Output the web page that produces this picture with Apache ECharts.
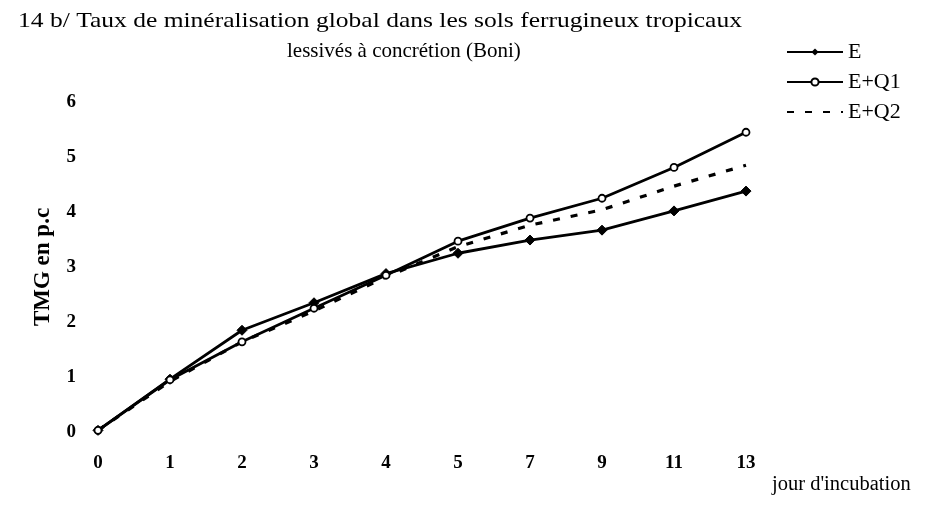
<!DOCTYPE html>
<html>
<head>
<meta charset="utf-8">
<script src="https://cdn.jsdelivr.net/npm/echarts@6/dist/echarts.min.js"></script>
<style>
  html, body { margin: 0; padding: 0; background: #fff; }
  #chart { width: 926px; height: 510px; }
</style>
</head>
<body>
<div id="chart"></div>
<script>
// Incubation days (category axis)
const days = ['0', '1', '2', '3', '4', '5', '7', '9', '11', '13'];
// Global mineralisation rate (TMG, p.c) per treatment
const serieE   = [0.03, 0.96, 1.85, 2.35, 2.88, 3.25, 3.49, 3.67, 4.02, 4.38];
const serieEQ1 = [0.03, 0.95, 1.64, 2.25, 2.85, 3.47, 3.89, 4.25, 4.81, 5.45];
const serieEQ2 = [0.03, 0.92, 1.64, 2.20, 2.82, 3.37, 3.76, 4.04, 4.47, 4.85];
const yTicks = [0, 1, 2, 3, 4, 5, 6];

const serif = 'Liberation Serif';
const chart = echarts.init(document.getElementById('chart'));

chart.setOption({
  backgroundColor: '#ffffff',
  animation: false,
  title: {
    text: 'lessivés à concrétion (Boni)',
    left: 282, top: 36,
    textStyle: { fontFamily: serif, fontSize: 21, fontWeight: 'normal', color: '#000' }
  },
  legend: {
    orient: 'vertical',
    left: 781, top: 36,
    itemWidth: 56, itemHeight: 9, itemGap: 8,
    textStyle: { fontFamily: serif, fontSize: 22, color: '#000' },
    data: [
      'E',
      'E+Q1',
      { name: 'E+Q2', itemStyle: { color: 'rgba(0,0,0,0)', borderWidth: 0 } }
    ]
  },
  grid: { left: 98, right: 180, top: 102, bottom: 78 },
  xAxis: {
    type: 'category',
    data: days,
    boundaryGap: false,
    axisLine: { show: false },
    axisTick: { show: false },
    splitLine: { show: false },
    axisLabel: { margin: 22, fontFamily: serif, fontSize: 19, fontWeight: 'bold', color: '#000' }
  },
  yAxis: {
    type: 'value',
    min: yTicks[0], max: yTicks[yTicks.length - 1], interval: 1,
    axisLine: { show: false },
    axisTick: { show: false },
    splitLine: { show: false },
    axisLabel: { margin: 22, fontFamily: serif, fontSize: 19, fontWeight: 'bold', color: '#000' },
    name: 'TMG en p.c',
    nameLocation: 'middle',
    nameRotate: 90,
    nameGap: 43,
    nameTextStyle: { fontFamily: serif, fontSize: 23, fontWeight: 'bold', color: '#000' }
  },
  graphic: [
    {
      // first title line, slightly widened
      type: 'text',
      x: 18, y: 10, scaleX: 1.16,
      style: {
        text: '14 b/ Taux de minéralisation global dans les sols ferrugineux tropicaux',
        font: '22px "Liberation Serif"', fill: '#000'
      }
    },
    {
      type: 'text',
      left: 772, top: 474,
      style: { text: "jour d'incubation", font: '20.5px "Liberation Serif"', fill: '#000' }
    }
  ],
  series: [
    {
      name: 'E', type: 'line', data: serieE,
      symbol: 'diamond', symbolSize: 10,
      lineStyle: { color: '#000', width: 2.8 },
      itemStyle: { color: '#000', borderColor: '#000' },
      z: 3
    },
    {
      name: 'E+Q1', type: 'line', data: serieEQ1,
      symbol: 'circle', symbolSize: 7,
      lineStyle: { color: '#000', width: 2.8 },
      itemStyle: { color: '#fff', borderColor: '#000', borderWidth: 1.8 },
      z: 4
    },
    {
      name: 'E+Q2', type: 'line', data: serieEQ2,
      symbol: 'none',
      lineStyle: { color: '#000', width: 3.2, type: [7, 11] },
      itemStyle: { color: '#000' },
      z: 2
    }
  ]
});
</script>
</body>
</html>
